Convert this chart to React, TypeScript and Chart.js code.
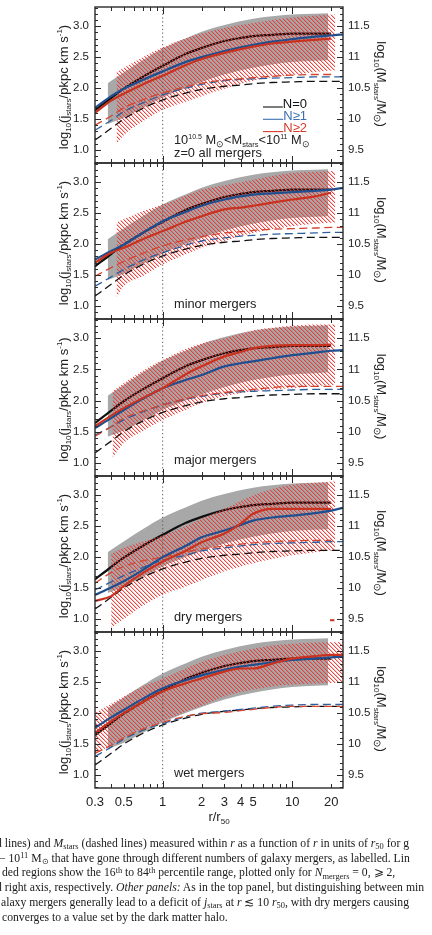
import React, { useEffect, useRef } from 'react';
import { Chart, registerables } from 'chart.js';

Chart.register(...registerables);

// ---------- page layout ----------
const W = 432;
const EDGES = [7, 163, 319, 476, 632, 788]; // panel top/bottom edges
const PAD = 3;
const AXIS_H = 45;
const LEFT_W = 95;
const RIGHT_W = 89;

// ---------- axes ----------
const R_MIN = 0.305;
const R_MAX = 24.7;
const J_MIN = 0.79;
const J_MAX = 3.31;
const M_SHIFT = 8.5; // right axis = left axis + 8.5 dex
const R_TICK_LABELS = [0.3, 0.5, 1, 2, 3, 4, 5, 10, 20];
const R_MINOR = [0.4, 0.5, 0.6, 0.7, 0.8, 0.9, 2, 3, 4, 5, 6, 7, 8, 9, 20];
const R_MAJOR = [1, 10];
const J_TICKS = [1.0, 1.5, 2.0, 2.5, 3.0];
const M_TICKS = [9.5, 10, 10.5, 11, 11.5];

// ---------- radii ----------
const R = [0.3, 0.4, 0.5, 0.7, 1, 1.5, 2, 3, 4, 5, 7, 10, 15, 20, 25];
const R_GREY = [0.376, 0.5, 0.7, 1, 1.5, 2, 3, 5, 7, 10, 15, 19];
const R_HATCH_MID = [0.5, 0.7, 1, 1.5, 2, 3, 5, 7, 10, 15];
const HATCH_START = [0.44, 0.44, 0.41, 0.4, 0.3];
const HATCH_END = [21.5, 21.5, 21.5, 21.5, 25];

// ---------- N=0 (no mergers), same in every panel ----------
const J_N0 = [1.64, 1.84, 1.99, 2.18, 2.36, 2.55, 2.65, 2.76, 2.81, 2.84, 2.86, 2.88, 2.88, 2.88, null];
const M_N0 = [9.66, 9.85, 10.0, 10.17, 10.31, 10.42, 10.48, 10.53, 10.55, 10.57, 10.59, 10.6, 10.61, 10.61, 10.61];
const GREY_HI = [2.08, 2.25, 2.45, 2.64, 2.8, 2.91, 3.02, 3.12, 3.16, 3.19, 3.2, 3.21];
const GREY_LO = [1.42, 1.52, 1.68, 1.85, 2.0, 2.1, 2.22, 2.33, 2.38, 2.42, 2.44, 2.45];

// ---------- all mergers ----------
const J_N1_ALL = [1.68, 1.87, 1.99, 2.13, 2.27, 2.42, 2.5, 2.6, 2.66, 2.7, 2.75, 2.79, 2.83, 2.85, 2.87];
const J_N2_ALL = [1.6, 1.8, 1.91, 2.06, 2.2, 2.37, 2.47, 2.57, 2.63, 2.67, 2.72, 2.75, 2.78, 2.8, null];
const M_N1_ALL = [9.82, 9.98, 10.12, 10.26, 10.39, 10.5, 10.56, 10.62, 10.64, 10.65, 10.66, 10.67, 10.68, 10.68, 10.68];
const M_N2_ALL = [9.9, 10.05, 10.18, 10.31, 10.42, 10.52, 10.58, 10.63, 10.65, 10.67, 10.69, 10.71, 10.72, 10.72, null];
const HATCH_HI_ALL = [2.26, 2.33, 2.5, 2.66, 2.8, 2.88, 2.97, 3.05, 3.1, 3.14, 3.17, 3.19];
const HATCH_LO_ALL = [1.1, 1.24, 1.46, 1.65, 1.78, 1.87, 1.99, 2.12, 2.17, 2.21, 2.26, 2.29];

// ---------- minor mergers ----------
const J_N1_MINOR = [1.75, 1.89, 1.99, 2.18, 2.37, 2.52, 2.62, 2.72, 2.77, 2.8, 2.82, 2.84, 2.86, 2.88, 2.91];
const J_N2_MINOR = [1.7, 1.86, 1.94, 2.08, 2.21, 2.36, 2.45, 2.56, 2.59, 2.62, 2.67, 2.72, 2.77, 2.83, null];
const M_N1_MINOR = [9.82, 9.97, 10.09, 10.24, 10.36, 10.48, 10.55, 10.6, 10.63, 10.64, 10.66, 10.67, 10.68, 10.69, 10.69];
const M_N2_MINOR = [9.98, 10.12, 10.22, 10.35, 10.47, 10.57, 10.62, 10.68, 10.7, 10.72, 10.74, 10.75, 10.76, 10.77, 10.77];
const HATCH_HI_MINOR = [2.35, 2.4, 2.53, 2.64, 2.78, 2.88, 2.95, 3.04, 3.1, 3.15, 3.17, 3.18];
const HATCH_LO_MINOR = [1.14, 1.32, 1.48, 1.67, 1.83, 1.94, 2.05, 2.18, 2.24, 2.29, 2.33, 2.35];

// ---------- major mergers ----------
const J_N1_MAJOR = [1.56, 1.72, 1.85, 2.03, 2.2, 2.33, 2.41, 2.55, 2.6, 2.63, 2.68, 2.73, 2.77, 2.8, 2.81];
const J_N2_MAJOR = [1.59, 1.76, 1.88, 2.04, 2.2, 2.42, 2.55, 2.71, 2.78, 2.84, 2.88, 2.89, 2.89, 2.9, null];
const M_N1_MAJOR = [9.95, 10.08, 10.19, 10.32, 10.43, 10.52, 10.57, 10.62, 10.64, 10.65, 10.66, 10.67, 10.68, 10.68, 10.68];
const M_N2_MAJOR = [9.93, 10.08, 10.22, 10.33, 10.43, 10.53, 10.58, 10.63, 10.66, 10.68, 10.71, 10.73, 10.73, 10.73, 10.73];
const HATCH_HI_MAJOR = [2.15, 2.28, 2.48, 2.65, 2.83, 2.92, 3.0, 3.13, 3.17, 3.2, 3.22, 3.22];
const HATCH_LO_MAJOR = [1.08, 1.32, 1.51, 1.69, 1.85, 1.96, 2.07, 2.15, 2.18, 2.2, 2.23, 2.25];

// ---------- dry mergers ----------
const J_N1_DRY = [1.39, 1.51, 1.61, 1.79, 2.0, 2.18, 2.32, 2.43, 2.52, 2.59, 2.64, 2.67, 2.71, 2.75, 2.8];
const J_N2_DRY = [1.29, 1.37, 1.53, 1.74, 1.93, 2.1, 2.24, 2.38, 2.54, 2.7, 2.78, 2.78, 2.78, 2.78, null];
const M_N1_DRY = [9.97, 10.1, 10.2, 10.33, 10.45, 10.53, 10.6, 10.65, 10.68, 10.7, 10.72, 10.73, 10.74, 10.75, 10.75];
const M_N2_DRY = [10.08, 10.25, 10.35, 10.44, 10.5, 10.58, 10.63, 10.68, 10.71, 10.73, 10.75, 10.76, 10.77, 10.77, null];
const HATCH_HI_DRY = [2.05, 2.15, 2.25, 2.35, 2.5, 2.62, 2.78, 3.0, 3.1, 3.17, 3.2, 3.22];
const HATCH_LO_DRY = [0.86, 1.0, 1.21, 1.39, 1.52, 1.63, 1.77, 1.9, 1.97, 2.03, 2.08, 2.11];
const R_DRY_TAIL = [19.6, 21.2];
const J_DRY_TAIL = [0.98, 0.98];

// ---------- wet mergers ----------
const J_N1_WET = [1.76, 1.93, 2.05, 2.23, 2.4, 2.53, 2.61, 2.7, 2.75, 2.78, 2.82, 2.86, 2.88, 2.9, 2.91];
const J_N2_WET = [1.68, 1.87, 2.0, 2.18, 2.35, 2.48, 2.56, 2.67, 2.72, 2.72, 2.8, 2.88, 2.92, 2.94, 2.94];
const M_N1_WET = [9.8, 9.95, 10.08, 10.22, 10.33, 10.44, 10.5, 10.53, 10.56, 10.58, 10.61, 10.63, 10.64, 10.64, 10.64];
const M_N2_WET = [9.85, 9.98, 10.1, 10.24, 10.35, 10.45, 10.49, 10.51, 10.54, 10.56, 10.59, 10.61, 10.61, 10.61, 10.61];
const HATCH_HI_WET = [2.0, 2.27, 2.43, 2.56, 2.72, 2.83, 2.94, 3.04, 3.09, 3.12, 3.14, 3.15];
const HATCH_LO_WET = [1.33, 1.6, 1.75, 1.87, 2.02, 2.12, 2.27, 2.38, 2.43, 2.46, 2.48, 2.49];

const PANEL_LABELS = ['z=0 all mergers', 'minor mergers', 'major mergers', 'dry mergers', 'wet mergers'];
const LEGEND_LABELS = ['N=0', 'N\u22651', 'N\u22652'];

const PANELS = [
  { j1: J_N1_ALL, j2: J_N2_ALL, m1: M_N1_ALL, m2: M_N2_ALL, hi: HATCH_HI_ALL, lo: HATCH_LO_ALL },
  { j1: J_N1_MINOR, j2: J_N2_MINOR, m1: M_N1_MINOR, m2: M_N2_MINOR, hi: HATCH_HI_MINOR, lo: HATCH_LO_MINOR },
  { j1: J_N1_MAJOR, j2: J_N2_MAJOR, m1: M_N1_MAJOR, m2: M_N2_MAJOR, hi: HATCH_HI_MAJOR, lo: HATCH_LO_MAJOR },
  { j1: J_N1_DRY, j2: J_N2_DRY, m1: M_N1_DRY, m2: M_N2_DRY, hi: HATCH_HI_DRY, lo: HATCH_LO_DRY },
  { j1: J_N1_WET, j2: J_N2_WET, m1: M_N1_WET, m2: M_N2_WET, hi: HATCH_HI_WET, lo: HATCH_LO_WET },
];

// ---------- styling ----------
const NARROW = "'Liberation Sans Narrow', 'Arial Narrow', 'Liberation Sans', sans-serif";
const SANS = "'Liberation Sans', Arial, Helvetica, sans-serif";
const SERIF = "'Liberation Serif', 'Times New Roman', serif";
const INK = '#222';
const AXIS = '#2a2a2a';
const BLACK = '#111111';
const BLUE = '#1f4f8f';
const RED = '#c8321f';
const BLUE_TXT = '#3a6fb0';
const RED_TXT = '#d43a2a';
const GREY = '#a8a8a8';
const HATCH_RGB = [232, 58, 54];

type Seg = { t: string; s: number; dy?: number };

const J_TITLE: Seg[] = [
  { t: 'log', s: 13 }, { t: '10', s: 8, dy: 3 }, { t: '(j', s: 13 }, { t: 'stars', s: 8, dy: 3 },
  { t: '/pkpc km s', s: 13 }, { t: '-1', s: 8, dy: -6 }, { t: ')', s: 13 },
];
const M_TITLE: Seg[] = [
  { t: 'log', s: 13 }, { t: '10', s: 8, dy: 3 }, { t: '(M', s: 13 }, { t: 'stars', s: 8, dy: 3 },
  { t: '/M', s: 13 }, { t: '\u2299', s: 10, dy: 3 }, { t: ')', s: 13 },
];
const MASS_BIN: Seg[] = [
  { t: '10', s: 12.8 }, { t: '10.5', s: 7, dy: -5 }, { t: ' M', s: 12.8 }, { t: '\u2299', s: 9, dy: 2.5 },
  { t: '<M', s: 12.8 }, { t: 'stars', s: 7.5, dy: 2.5 }, { t: '<10', s: 12.8 }, { t: '11', s: 7, dy: -5 },
  { t: ' M', s: 12.8 }, { t: '\u2299', s: 9, dy: 2.5 },
];
const X_TITLE: Seg[] = [{ t: 'r/r', s: 13 }, { t: '50', s: 8, dy: 3 }];

function drawRich(ctx: CanvasRenderingContext2D, segs: Seg[], x: number, y: number, fam: string, align: 'left' | 'center' | 'right') {
  let w = 0;
  for (const s of segs) {
    ctx.font = `${s.s}px ${fam}`;
    w += ctx.measureText(s.t).width;
  }
  let cx = align === 'left' ? x : align === 'center' ? x - w / 2 : x - w;
  ctx.textAlign = 'left';
  ctx.textBaseline = 'alphabetic';
  for (const s of segs) {
    ctx.font = `${s.s}px ${fam}`;
    ctx.fillText(s.t, cx, y + (s.dy || 0));
    cx += ctx.measureText(s.t).width;
  }
}

// fine red diagonal hatching (pixel tile) for the N>=2 percentile band,
// shifted so that the stripes line up across the stacked canvases
function makeHatch(pageTop: number): CanvasPattern | string {
  const fallback = 'rgba(232,58,54,0.35)';
  const c = document.createElement('canvas');
  c.width = 4;
  c.height = 4;
  const g = c.getContext('2d');
  if (!g) return fallback;
  const img = g.createImageData(4, 4);
  const set = (x: number, y: number, a: number) => {
    const i = (y * 4 + x) * 4;
    img.data[i] = HATCH_RGB[0];
    img.data[i + 1] = HATCH_RGB[1];
    img.data[i + 2] = HATCH_RGB[2];
    img.data[i + 3] = a;
  };
  for (let k = 0; k < 4; k++) {
    set(k, k, 235);
    set((k + 1) % 4, k, 80);
  }
  g.putImageData(img, 0, 0);
  const pat = g.createPattern(c, 'repeat');
  if (!pat) return fallback;
  if (typeof DOMMatrix !== 'undefined' && pat.setTransform) {
    pat.setTransform(new DOMMatrix([1, 0, 0, 1, 0, -pageTop]));
  }
  return pat;
}

const pts = (xs: number[], ys: (number | null)[]) =>
  xs.map((x, i) => ({ x, y: ys[i] })).filter((p) => p.y !== null) as { x: number; y: number }[];

function frameTicks() {
  return {
    id: 'frameTicks',
    afterDatasetsDraw(chart: any) {
      const { ctx, chartArea: a } = chart;
      const sx = chart.scales.x;
      const sl = chart.scales.yL;
      const sr = chart.scales.yR;
      ctx.save();
      ctx.strokeStyle = AXIS;
      ctx.lineWidth = 1;
      ctx.beginPath();
      const seg = (x1: number, y1: number, x2: number, y2: number) => {
        ctx.moveTo(x1, y1);
        ctx.lineTo(x2, y2);
      };
      const xTick = (v: number, len: number) => {
        const p = Math.round(sx.getPixelForValue(v)) + 0.5;
        seg(p, a.bottom, p, a.bottom - len);
        seg(p, a.top, p, a.top + len);
      };
      R_MINOR.forEach((v) => xTick(v, 4));
      R_MAJOR.forEach((v) => xTick(v, 7));
      for (let k = 8; k <= 33; k++) {
        const p = Math.round(sl.getPixelForValue(k / 10)) + 0.5;
        if (p < a.top || p > a.bottom) continue;
        seg(a.left, p, a.left + (k % 5 === 0 ? 6 : 3), p);
      }
      for (let k = 93; k <= 118; k++) {
        const p = Math.round(sr.getPixelForValue(k / 10)) + 0.5;
        if (p < a.top || p > a.bottom) continue;
        seg(a.right, p, a.right - (k % 5 === 0 ? 6 : 3), p);
      }
      ctx.stroke();
      ctx.lineWidth = 1.4;
      ctx.strokeRect(a.left, a.top, a.right - a.left, a.bottom - a.top);
      ctx.restore();
    },
  };
}

function panelText(idx: number, isLast: boolean) {
  return {
    id: 'panelText',
    afterDraw(chart: any) {
      const { ctx, chartArea: a } = chart;
      const cy = (a.top + a.bottom) / 2;
      ctx.save();
      ctx.fillStyle = INK;
      // left axis title
      ctx.save();
      ctx.translate(67.5, cy + 2);
      ctx.rotate(-Math.PI / 2);
      drawRich(ctx, J_TITLE, 0, 0, SANS, 'center');
      ctx.restore();
      // right axis title
      ctx.save();
      ctx.translate(376.5, cy - 1);
      ctx.rotate(Math.PI / 2);
      drawRich(ctx, M_TITLE, 0, 0, SANS, 'center');
      ctx.restore();
      // panel label
      if (idx === 0) {
        drawRich(ctx, MASS_BIN, 174, a.top + 137, NARROW, 'left');
        drawRich(ctx, [{ t: PANEL_LABELS[0], s: 12.8 }], 174, a.top + 150, NARROW, 'left');
        // legend
        const colors = [BLACK, BLUE_TXT, RED_TXT];
        LEGEND_LABELS.forEach((lab, i) => {
          const base = a.top + 100.5 + i * 12.3;
          ctx.fillStyle = colors[i];
          ctx.font = `13px ${NARROW}`;
          ctx.textAlign = 'right';
          ctx.textBaseline = 'alphabetic';
          ctx.fillText(lab, 307, base);
          const tw = ctx.measureText(lab).width;
          ctx.strokeStyle = colors[i];
          ctx.lineWidth = 1.1;
          ctx.beginPath();
          ctx.moveTo(263, base - 0.5);
          ctx.lineTo(307 - tw, base - 0.5);
          ctx.stroke();
        });
      } else {
        drawRich(ctx, [{ t: PANEL_LABELS[idx], s: 12.8 }], 174, a.top + 144.5, NARROW, 'left');
      }
      if (isLast) {
        ctx.fillStyle = INK;
        drawRich(ctx, X_TITLE, (a.left + a.right) / 2, a.bottom + 33, NARROW, 'center');
      }
      ctx.restore();
    },
  };
}

function buildConfig(idx: number, hatch: CanvasPattern | string): any {
  const p = PANELS[idx];
  const isLast = idx === PANELS.length - 1;
  const rHatch = [HATCH_START[idx], ...R_HATCH_MID, HATCH_END[idx]];
  const solid = { borderWidth: 2.2, pointRadius: 0, cubicInterpolationMode: 'monotone', fill: false };
  const dashed = { borderWidth: 1.3, borderDash: [8, 4.5], pointRadius: 0, cubicInterpolationMode: 'monotone', fill: false, yAxisID: 'yR' };
  const band = { borderWidth: 0, borderColor: 'transparent', pointRadius: 0, cubicInterpolationMode: 'monotone' };

  const datasets: any[] = [
    { ...solid, label: 'N>=2', data: pts(R, p.j2), borderColor: RED, yAxisID: 'yL' },
    { ...solid, label: 'N>=1', data: pts(R, p.j1), borderColor: BLUE, yAxisID: 'yL' },
    { ...dashed, label: 'M N>=2', data: pts(R, p.m2), borderColor: '#d4442f' },
    { ...dashed, label: 'M N>=1', data: pts(R, p.m1), borderColor: '#2d5f9f' },
    { ...dashed, label: 'M N=0', data: pts(R, M_N0), borderColor: BLACK },
    {
      label: 'r50', data: [{ x: 1, y: J_MIN }, { x: 1, y: J_MAX }], yAxisID: 'yL',
      borderColor: '#555', borderWidth: 1, borderDash: [1.2, 2.6], pointRadius: 0, tension: 0, fill: false,
    },
    { ...band, label: 'N>=2 84th', data: pts(rHatch, p.hi), yAxisID: 'yL', fill: 7, backgroundColor: hatch },
    { ...band, label: 'N>=2 16th', data: pts(rHatch, p.lo), yAxisID: 'yL', fill: false },
    { ...solid, label: 'N=0', data: pts(R, J_N0), borderColor: BLACK, yAxisID: 'yL' },
    { ...band, label: 'N=0 84th', data: pts(R_GREY, GREY_HI), yAxisID: 'yL', fill: 10, backgroundColor: GREY },
    { ...band, label: 'N=0 16th', data: pts(R_GREY, GREY_LO), yAxisID: 'yL', fill: false },
  ];
  if (idx === 3) {
    datasets.push({ label: 'tail', data: pts(R_DRY_TAIL, J_DRY_TAIL), yAxisID: 'yL', borderColor: RED, borderWidth: 2, pointRadius: 0, fill: false });
  }

  const zeroPad = (s: any) => {
    s.paddingTop = 0;
    s.paddingBottom = 0;
    s.paddingLeft = 0;
    s.paddingRight = 0;
  };

  return {
    type: 'line',
    data: { datasets },
    options: {
      animation: false,
      responsive: false,
      devicePixelRatio: 1,
      events: [],
      layout: { padding: { top: PAD, bottom: isLast ? 0 : PAD, left: 0, right: 0 } },
      plugins: { legend: { display: false }, tooltip: { enabled: false }, filler: { propagate: false } },
      scales: {
        x: {
          type: 'logarithmic',
          min: R_MIN,
          max: R_MAX,
          display: isLast,
          grid: { display: false, drawTicks: false },
          border: { display: false },
          afterBuildTicks: (s: any) => { s.ticks = R_TICK_LABELS.map((v) => ({ value: v })); },
          afterFit: (s: any) => { s.height = isLast ? AXIS_H : 0; zeroPad(s); },
          ticks: {
            autoSkip: false, maxRotation: 0, minRotation: 0, padding: 7, color: INK,
            font: { family: NARROW, size: 13 },
            callback: (v: any) => String(v),
          },
        },
        yL: {
          type: 'linear',
          position: 'left',
          min: J_MIN,
          max: J_MAX,
          grid: { display: false, drawTicks: false },
          border: { display: false },
          afterBuildTicks: (s: any) => { s.ticks = J_TICKS.map((v) => ({ value: v })); },
          afterFit: (s: any) => { s.width = LEFT_W; zeroPad(s); },
          ticks: { padding: 6, color: INK, font: { family: NARROW, size: 11.5 }, callback: (v: any) => Number(v).toFixed(1) },
        },
        yR: {
          type: 'linear',
          position: 'right',
          min: J_MIN + M_SHIFT,
          max: J_MAX + M_SHIFT,
          grid: { display: false, drawTicks: false },
          border: { display: false },
          afterBuildTicks: (s: any) => { s.ticks = M_TICKS.map((v) => ({ value: v })); },
          afterFit: (s: any) => { s.width = RIGHT_W; zeroPad(s); },
          ticks: { padding: 5, color: INK, font: { family: NARROW, size: 11.5 }, callback: (v: any) => String(v) },
        },
      },
    },
    plugins: [frameTicks(), panelText(idx, isLast)],
  };
}

function Panel({ idx }: { idx: number }) {
  const ref = useRef<HTMLCanvasElement | null>(null);
  const isLast = idx === PANELS.length - 1;
  const top = EDGES[idx] - PAD;
  const h = EDGES[idx + 1] - EDGES[idx] + PAD + (isLast ? AXIS_H : PAD);
  useEffect(() => {
    if (!ref.current) return;
    const chart = new Chart(ref.current, buildConfig(idx, makeHatch(top)));
    return () => chart.destroy();
  }, [idx, top]);
  return (
    <canvas
      ref={ref}
      width={W}
      height={h}
      style={{ position: 'absolute', left: 0, top, width: W, height: h, display: 'block' }}
    />
  );
}

const sub: React.CSSProperties = { fontSize: '0.72em', position: 'relative', top: '0.28em', lineHeight: 0 };
const sup: React.CSSProperties = { fontSize: '0.72em', position: 'relative', top: '-0.45em', lineHeight: 0 };

const CAPTION_LEFT = [-4, -1, 2, -4, 1, 2];
const CAPTION_TOP = 837;
const CAPTION_STEP = 14.7;

function Caption() {
  const lines: React.ReactNode[] = [
    <>d lines) and <i>M</i><span style={sub}>stars</span> (dashed lines) measured within <i>r</i> as a function of <i>r</i> in units of <i>r</i><span style={sub}>50</span> for g</>,
    <>{'\u2212'} 10<span style={sup}>11</span> M<span style={sub}>{'\u2299'}</span> that have gone through different numbers of galaxy mergers, as labelled. Lin</>,
    <>ded regions show the 16<span style={sup}>th</span> to 84<span style={sup}>th</span> percentile range, plotted only for <i>N</i><span style={sub}>mergers</span> = 0, {'\u2A7E'} 2, </>,
    <>d right axis, respectively. <i>Other panels:</i> As in the top panel, but distinguishing between min</>,
    <>alaxy mergers generally lead to a deficit of <i>j</i><span style={sub}>stars</span> at <i>r</i> {'\u2272'} 10 <i>r</i><span style={sub}>50</span>, with dry mergers causing </>,
    <>converges to a value set by the dark matter halo.</>,
  ];
  return (
    <div style={{ position: 'absolute', left: 0, top: 0, width: W, height: 935, overflow: 'hidden', pointerEvents: 'none' }}>
      {lines.map((ln, i) => (
        <div
          key={i}
          style={{
            position: 'absolute',
            left: CAPTION_LEFT[i],
            top: CAPTION_TOP + i * CAPTION_STEP,
            whiteSpace: 'nowrap',
            fontFamily: SERIF,
            fontSize: 11.7,
            lineHeight: `${CAPTION_STEP}px`,
            color: '#1a1a1a',
          }}
        >
          {ln}
        </div>
      ))}
    </div>
  );
}

export default function App() {
  return (
    <div style={{ position: 'absolute', left: 0, top: 0, width: W, height: 935, background: '#fff', overflow: 'hidden' }}>
      {PANELS.map((_, i) => (
        <Panel key={i} idx={i} />
      ))}
      <Caption />
    </div>
  );
}
